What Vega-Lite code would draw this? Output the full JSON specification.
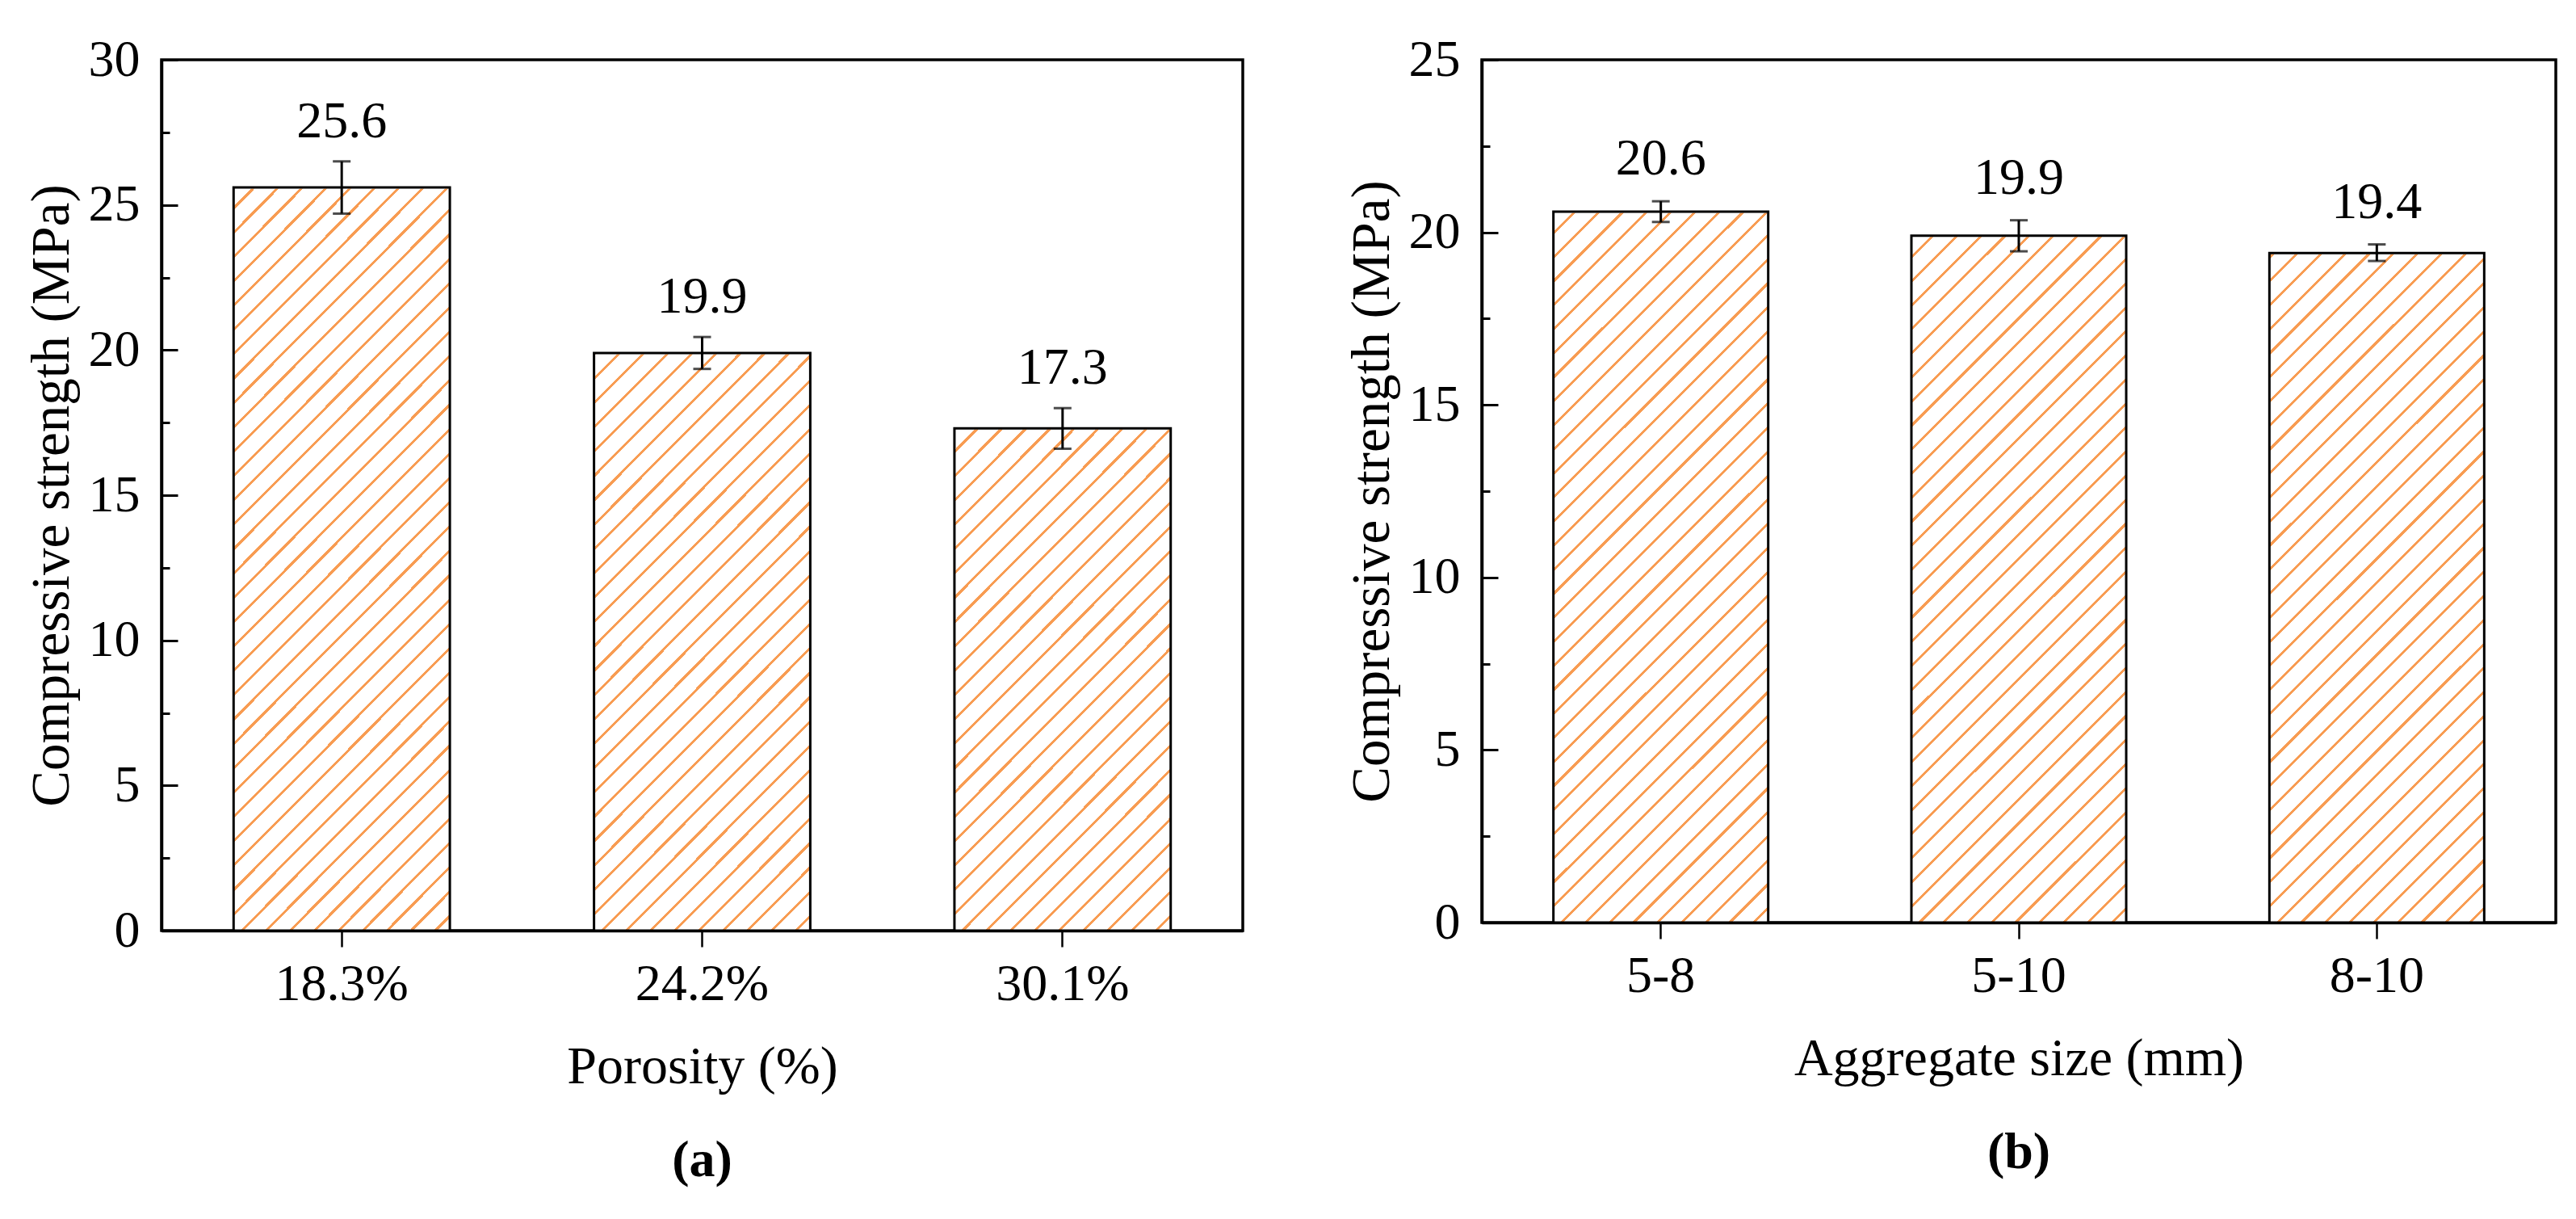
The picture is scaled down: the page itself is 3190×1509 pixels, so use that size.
{
"$schema": "https://vega.github.io/schema/vega-lite/v6.json",
"background": "white",
"padding": {"left": 28, "top": 40, "right": 0, "bottom": 0},
"spacing": 122,
"config": {
 "font": "Liberation Serif",
 "view": {"stroke": "black", "strokeWidth": 3.5},
 "axis": {"domainColor": "black", "domainWidth": 3.5, "tickColor": "black", "tickWidth": 3, "labelColor": "black", "titleColor": "black", "labelFont": "Liberation Serif", "titleFont": "Liberation Serif", "labelFontSize": 64, "titleFontSize": 66, "titleFontWeight": "normal", "grid": false, "labelOverlap": false, "labelBound": false, "labelFlush": false},
 "axisY": {"titleFontSize": 67}
},
"hconcat": [
 {
  "width": 1339, "height": 1078,
  "data": {"values": [
   {"cat": "18.3%", "v": 25.6, "lo": 24.7, "hi": 26.5},
   {"cat": "24.2%", "v": 19.9, "lo": 19.35, "hi": 20.45},
   {"cat": "30.1%", "v": 17.3, "lo": 16.6, "hi": 18.0}
  ]},
  "title": {"text": "(a)", "orient": "bottom", "frame": "group", "anchor": "middle", "fontSize": 64, "font": "Liberation Serif", "fontWeight": "bold", "color": "black", "offset": 52},
  "encoding": {"x": {"field": "cat", "type": "nominal", "sort": null, "scale": {"paddingInner": 0.4, "paddingOuter": 0.2}, "axis": {"title": "Porosity (%)", "labelAngle": 0, "tickSize": 20, "tickWidth": 2.5, "labelPadding": 14, "titlePadding": 38}}},
  "layer": [
   {"mark": {"type": "bar", "strokeWidth": 0, "fill": {"gradient": "linear", "x1": 0, "y1": 0, "x2": 0.29925, "y2": 1.17801, "stops": [
{"offset":0,"color":"#fff"},
{"offset":0.00975,"color":"#fff"},{"offset":0.00975,"color":"#f89c52"},{"offset":0.01293,"color":"#f89c52"},{"offset":0.01293,"color":"#fff"},
{"offset":0.03243,"color":"#fff"},{"offset":0.03243,"color":"#f89c52"},{"offset":0.0356,"color":"#f89c52"},{"offset":0.0356,"color":"#fff"},
{"offset":0.0551,"color":"#fff"},{"offset":0.0551,"color":"#f89c52"},{"offset":0.05828,"color":"#f89c52"},{"offset":0.05828,"color":"#fff"},
{"offset":0.07778,"color":"#fff"},{"offset":0.07778,"color":"#f89c52"},{"offset":0.08095,"color":"#f89c52"},{"offset":0.08095,"color":"#fff"},
{"offset":0.10046,"color":"#fff"},{"offset":0.10046,"color":"#f89c52"},{"offset":0.10363,"color":"#f89c52"},{"offset":0.10363,"color":"#fff"},
{"offset":0.12313,"color":"#fff"},{"offset":0.12313,"color":"#f89c52"},{"offset":0.12631,"color":"#f89c52"},{"offset":0.12631,"color":"#fff"},
{"offset":0.14581,"color":"#fff"},{"offset":0.14581,"color":"#f89c52"},{"offset":0.14898,"color":"#f89c52"},{"offset":0.14898,"color":"#fff"},
{"offset":0.16848,"color":"#fff"},{"offset":0.16848,"color":"#f89c52"},{"offset":0.17166,"color":"#f89c52"},{"offset":0.17166,"color":"#fff"},
{"offset":0.19116,"color":"#fff"},{"offset":0.19116,"color":"#f89c52"},{"offset":0.19433,"color":"#f89c52"},{"offset":0.19433,"color":"#fff"},
{"offset":0.21384,"color":"#fff"},{"offset":0.21384,"color":"#f89c52"},{"offset":0.21701,"color":"#f89c52"},{"offset":0.21701,"color":"#fff"},
{"offset":0.23651,"color":"#fff"},{"offset":0.23651,"color":"#f89c52"},{"offset":0.23969,"color":"#f89c52"},{"offset":0.23969,"color":"#fff"},
{"offset":0.25919,"color":"#fff"},{"offset":0.25919,"color":"#f89c52"},{"offset":0.26236,"color":"#f89c52"},{"offset":0.26236,"color":"#fff"},
{"offset":0.28186,"color":"#fff"},{"offset":0.28186,"color":"#f89c52"},{"offset":0.28504,"color":"#f89c52"},{"offset":0.28504,"color":"#fff"},
{"offset":0.30454,"color":"#fff"},{"offset":0.30454,"color":"#f89c52"},{"offset":0.30771,"color":"#f89c52"},{"offset":0.30771,"color":"#fff"},
{"offset":0.32722,"color":"#fff"},{"offset":0.32722,"color":"#f89c52"},{"offset":0.33039,"color":"#f89c52"},{"offset":0.33039,"color":"#fff"},
{"offset":0.34989,"color":"#fff"},{"offset":0.34989,"color":"#f89c52"},{"offset":0.35307,"color":"#f89c52"},{"offset":0.35307,"color":"#fff"},
{"offset":0.37257,"color":"#fff"},{"offset":0.37257,"color":"#f89c52"},{"offset":0.37574,"color":"#f89c52"},{"offset":0.37574,"color":"#fff"},
{"offset":0.39524,"color":"#fff"},{"offset":0.39524,"color":"#f89c52"},{"offset":0.39842,"color":"#f89c52"},{"offset":0.39842,"color":"#fff"},
{"offset":0.41792,"color":"#fff"},{"offset":0.41792,"color":"#f89c52"},{"offset":0.42109,"color":"#f89c52"},{"offset":0.42109,"color":"#fff"},
{"offset":0.4406,"color":"#fff"},{"offset":0.4406,"color":"#f89c52"},{"offset":0.44377,"color":"#f89c52"},{"offset":0.44377,"color":"#fff"},
{"offset":0.46327,"color":"#fff"},{"offset":0.46327,"color":"#f89c52"},{"offset":0.46645,"color":"#f89c52"},{"offset":0.46645,"color":"#fff"},
{"offset":0.48595,"color":"#fff"},{"offset":0.48595,"color":"#f89c52"},{"offset":0.48912,"color":"#f89c52"},{"offset":0.48912,"color":"#fff"},
{"offset":0.50862,"color":"#fff"},{"offset":0.50862,"color":"#f89c52"},{"offset":0.5118,"color":"#f89c52"},{"offset":0.5118,"color":"#fff"},
{"offset":0.5313,"color":"#fff"},{"offset":0.5313,"color":"#f89c52"},{"offset":0.53447,"color":"#f89c52"},{"offset":0.53447,"color":"#fff"},
{"offset":0.55398,"color":"#fff"},{"offset":0.55398,"color":"#f89c52"},{"offset":0.55715,"color":"#f89c52"},{"offset":0.55715,"color":"#fff"},
{"offset":0.57665,"color":"#fff"},{"offset":0.57665,"color":"#f89c52"},{"offset":0.57983,"color":"#f89c52"},{"offset":0.57983,"color":"#fff"},
{"offset":0.59933,"color":"#fff"},{"offset":0.59933,"color":"#f89c52"},{"offset":0.6025,"color":"#f89c52"},{"offset":0.6025,"color":"#fff"},
{"offset":0.622,"color":"#fff"},{"offset":0.622,"color":"#f89c52"},{"offset":0.62518,"color":"#f89c52"},{"offset":0.62518,"color":"#fff"},
{"offset":0.64468,"color":"#fff"},{"offset":0.64468,"color":"#f89c52"},{"offset":0.64785,"color":"#f89c52"},{"offset":0.64785,"color":"#fff"},
{"offset":0.66736,"color":"#fff"},{"offset":0.66736,"color":"#f89c52"},{"offset":0.67053,"color":"#f89c52"},{"offset":0.67053,"color":"#fff"},
{"offset":0.69003,"color":"#fff"},{"offset":0.69003,"color":"#f89c52"},{"offset":0.69321,"color":"#f89c52"},{"offset":0.69321,"color":"#fff"},
{"offset":0.71271,"color":"#fff"},{"offset":0.71271,"color":"#f89c52"},{"offset":0.71588,"color":"#f89c52"},{"offset":0.71588,"color":"#fff"},
{"offset":0.73538,"color":"#fff"},{"offset":0.73538,"color":"#f89c52"},{"offset":0.73856,"color":"#f89c52"},{"offset":0.73856,"color":"#fff"},
{"offset":0.75806,"color":"#fff"},{"offset":0.75806,"color":"#f89c52"},{"offset":0.76123,"color":"#f89c52"},{"offset":0.76123,"color":"#fff"},
{"offset":0.78074,"color":"#fff"},{"offset":0.78074,"color":"#f89c52"},{"offset":0.78391,"color":"#f89c52"},{"offset":0.78391,"color":"#fff"},
{"offset":0.80341,"color":"#fff"},{"offset":0.80341,"color":"#f89c52"},{"offset":0.80659,"color":"#f89c52"},{"offset":0.80659,"color":"#fff"},
{"offset":0.82609,"color":"#fff"},{"offset":0.82609,"color":"#f89c52"},{"offset":0.82926,"color":"#f89c52"},{"offset":0.82926,"color":"#fff"},
{"offset":0.84876,"color":"#fff"},{"offset":0.84876,"color":"#f89c52"},{"offset":0.85194,"color":"#f89c52"},{"offset":0.85194,"color":"#fff"},
{"offset":0.87144,"color":"#fff"},{"offset":0.87144,"color":"#f89c52"},{"offset":0.87461,"color":"#f89c52"},{"offset":0.87461,"color":"#fff"},
{"offset":0.89412,"color":"#fff"},{"offset":0.89412,"color":"#f89c52"},{"offset":0.89729,"color":"#f89c52"},{"offset":0.89729,"color":"#fff"},
{"offset":0.91679,"color":"#fff"},{"offset":0.91679,"color":"#f89c52"},{"offset":0.91997,"color":"#f89c52"},{"offset":0.91997,"color":"#fff"},
{"offset":0.93947,"color":"#fff"},{"offset":0.93947,"color":"#f89c52"},{"offset":0.94264,"color":"#f89c52"},{"offset":0.94264,"color":"#fff"},
{"offset":0.96214,"color":"#fff"},{"offset":0.96214,"color":"#f89c52"},{"offset":0.96532,"color":"#f89c52"},{"offset":0.96532,"color":"#fff"},
{"offset":0.98482,"color":"#fff"},{"offset":0.98482,"color":"#f89c52"},{"offset":0.98799,"color":"#f89c52"},{"offset":0.98799,"color":"#fff"}
    ]}},
    "encoding": {"y": {"datum": 29.5, "type": "quantitative", "scale": {"domain": [0, 30], "nice": false},
      "axis": {"title": "Compressive strength (MPa)", "values": [0,2.5,5,7.5,10,12.5,15,17.5,20,22.5,25,27.5,30], "labelExpr": "datum.value % 5 === 0 ? datum.label : ''", "tickSize": {"condition": {"test": "datum.value % 5 !== 0", "value": -10}, "value": -20}, "labelPadding": 47, "titlePadding": 11}},
     "y2": {"datum": 0}}},
   {"mark": {"type": "bar", "fill": "white", "stroke": "white", "strokeWidth": 3},
    "encoding": {"y": {"field": "v", "type": "quantitative", "title": "Compressive strength (MPa)"}, "y2": {"datum": 29.5}}},
   {"mark": {"type": "bar", "fillOpacity": 0, "stroke": "black", "strokeWidth": 3},
    "encoding": {"y": {"field": "v", "type": "quantitative", "title": "Compressive strength (MPa)"}}},
   {"mark": {"type": "rule", "color": "black", "strokeWidth": 3},
    "encoding": {"y": {"field": "lo", "type": "quantitative", "title": "Compressive strength (MPa)"}, "y2": {"field": "hi"}}},
   {"mark": {"type": "tick", "orient": "horizontal", "size": 22, "thickness": 3, "color": "black"},
    "encoding": {"y": {"field": "lo", "type": "quantitative", "title": "Compressive strength (MPa)"}}},
   {"mark": {"type": "tick", "orient": "horizontal", "size": 22, "thickness": 3, "color": "black"},
    "encoding": {"y": {"field": "hi", "type": "quantitative", "title": "Compressive strength (MPa)"}}},
   {"mark": {"type": "text", "dy": -30, "baseline": "alphabetic", "fontSize": 64, "font": "Liberation Serif", "color": "black"},
    "encoding": {"y": {"field": "hi", "type": "quantitative", "title": "Compressive strength (MPa)"}, "text": {"field": "v", "type": "quantitative", "format": ".1f"}}}
  ]
 },
 {
  "width": 1330, "height": 1068,
  "data": {"values": [
   {"cat": "5-8", "v": 20.6, "lo": 20.3, "hi": 20.9},
   {"cat": "5-10", "v": 19.9, "lo": 19.45, "hi": 20.35},
   {"cat": "8-10", "v": 19.4, "lo": 19.17, "hi": 19.65}
  ]},
  "title": {"text": "(b)", "orient": "bottom", "frame": "group", "anchor": "middle", "fontSize": 64, "font": "Liberation Serif", "fontWeight": "bold", "color": "black", "offset": 52},
  "encoding": {"x": {"field": "cat", "type": "nominal", "sort": null, "scale": {"paddingInner": 0.4, "paddingOuter": 0.2}, "axis": {"title": "Aggregate size (mm)", "labelAngle": 0, "tickSize": 20, "tickWidth": 2.5, "labelPadding": 14, "titlePadding": 38}}},
  "layer": [
   {"mark": {"type": "bar", "strokeWidth": 0, "fill": {"gradient": "linear", "x1": 0, "y1": 0, "x2": 0.29925, "y2": 1.17801, "stops": [
{"offset":0,"color":"#fff"},
{"offset":0.00975,"color":"#fff"},{"offset":0.00975,"color":"#f89c52"},{"offset":0.01293,"color":"#f89c52"},{"offset":0.01293,"color":"#fff"},
{"offset":0.03243,"color":"#fff"},{"offset":0.03243,"color":"#f89c52"},{"offset":0.0356,"color":"#f89c52"},{"offset":0.0356,"color":"#fff"},
{"offset":0.0551,"color":"#fff"},{"offset":0.0551,"color":"#f89c52"},{"offset":0.05828,"color":"#f89c52"},{"offset":0.05828,"color":"#fff"},
{"offset":0.07778,"color":"#fff"},{"offset":0.07778,"color":"#f89c52"},{"offset":0.08095,"color":"#f89c52"},{"offset":0.08095,"color":"#fff"},
{"offset":0.10046,"color":"#fff"},{"offset":0.10046,"color":"#f89c52"},{"offset":0.10363,"color":"#f89c52"},{"offset":0.10363,"color":"#fff"},
{"offset":0.12313,"color":"#fff"},{"offset":0.12313,"color":"#f89c52"},{"offset":0.12631,"color":"#f89c52"},{"offset":0.12631,"color":"#fff"},
{"offset":0.14581,"color":"#fff"},{"offset":0.14581,"color":"#f89c52"},{"offset":0.14898,"color":"#f89c52"},{"offset":0.14898,"color":"#fff"},
{"offset":0.16848,"color":"#fff"},{"offset":0.16848,"color":"#f89c52"},{"offset":0.17166,"color":"#f89c52"},{"offset":0.17166,"color":"#fff"},
{"offset":0.19116,"color":"#fff"},{"offset":0.19116,"color":"#f89c52"},{"offset":0.19433,"color":"#f89c52"},{"offset":0.19433,"color":"#fff"},
{"offset":0.21384,"color":"#fff"},{"offset":0.21384,"color":"#f89c52"},{"offset":0.21701,"color":"#f89c52"},{"offset":0.21701,"color":"#fff"},
{"offset":0.23651,"color":"#fff"},{"offset":0.23651,"color":"#f89c52"},{"offset":0.23969,"color":"#f89c52"},{"offset":0.23969,"color":"#fff"},
{"offset":0.25919,"color":"#fff"},{"offset":0.25919,"color":"#f89c52"},{"offset":0.26236,"color":"#f89c52"},{"offset":0.26236,"color":"#fff"},
{"offset":0.28186,"color":"#fff"},{"offset":0.28186,"color":"#f89c52"},{"offset":0.28504,"color":"#f89c52"},{"offset":0.28504,"color":"#fff"},
{"offset":0.30454,"color":"#fff"},{"offset":0.30454,"color":"#f89c52"},{"offset":0.30771,"color":"#f89c52"},{"offset":0.30771,"color":"#fff"},
{"offset":0.32722,"color":"#fff"},{"offset":0.32722,"color":"#f89c52"},{"offset":0.33039,"color":"#f89c52"},{"offset":0.33039,"color":"#fff"},
{"offset":0.34989,"color":"#fff"},{"offset":0.34989,"color":"#f89c52"},{"offset":0.35307,"color":"#f89c52"},{"offset":0.35307,"color":"#fff"},
{"offset":0.37257,"color":"#fff"},{"offset":0.37257,"color":"#f89c52"},{"offset":0.37574,"color":"#f89c52"},{"offset":0.37574,"color":"#fff"},
{"offset":0.39524,"color":"#fff"},{"offset":0.39524,"color":"#f89c52"},{"offset":0.39842,"color":"#f89c52"},{"offset":0.39842,"color":"#fff"},
{"offset":0.41792,"color":"#fff"},{"offset":0.41792,"color":"#f89c52"},{"offset":0.42109,"color":"#f89c52"},{"offset":0.42109,"color":"#fff"},
{"offset":0.4406,"color":"#fff"},{"offset":0.4406,"color":"#f89c52"},{"offset":0.44377,"color":"#f89c52"},{"offset":0.44377,"color":"#fff"},
{"offset":0.46327,"color":"#fff"},{"offset":0.46327,"color":"#f89c52"},{"offset":0.46645,"color":"#f89c52"},{"offset":0.46645,"color":"#fff"},
{"offset":0.48595,"color":"#fff"},{"offset":0.48595,"color":"#f89c52"},{"offset":0.48912,"color":"#f89c52"},{"offset":0.48912,"color":"#fff"},
{"offset":0.50862,"color":"#fff"},{"offset":0.50862,"color":"#f89c52"},{"offset":0.5118,"color":"#f89c52"},{"offset":0.5118,"color":"#fff"},
{"offset":0.5313,"color":"#fff"},{"offset":0.5313,"color":"#f89c52"},{"offset":0.53447,"color":"#f89c52"},{"offset":0.53447,"color":"#fff"},
{"offset":0.55398,"color":"#fff"},{"offset":0.55398,"color":"#f89c52"},{"offset":0.55715,"color":"#f89c52"},{"offset":0.55715,"color":"#fff"},
{"offset":0.57665,"color":"#fff"},{"offset":0.57665,"color":"#f89c52"},{"offset":0.57983,"color":"#f89c52"},{"offset":0.57983,"color":"#fff"},
{"offset":0.59933,"color":"#fff"},{"offset":0.59933,"color":"#f89c52"},{"offset":0.6025,"color":"#f89c52"},{"offset":0.6025,"color":"#fff"},
{"offset":0.622,"color":"#fff"},{"offset":0.622,"color":"#f89c52"},{"offset":0.62518,"color":"#f89c52"},{"offset":0.62518,"color":"#fff"},
{"offset":0.64468,"color":"#fff"},{"offset":0.64468,"color":"#f89c52"},{"offset":0.64785,"color":"#f89c52"},{"offset":0.64785,"color":"#fff"},
{"offset":0.66736,"color":"#fff"},{"offset":0.66736,"color":"#f89c52"},{"offset":0.67053,"color":"#f89c52"},{"offset":0.67053,"color":"#fff"},
{"offset":0.69003,"color":"#fff"},{"offset":0.69003,"color":"#f89c52"},{"offset":0.69321,"color":"#f89c52"},{"offset":0.69321,"color":"#fff"},
{"offset":0.71271,"color":"#fff"},{"offset":0.71271,"color":"#f89c52"},{"offset":0.71588,"color":"#f89c52"},{"offset":0.71588,"color":"#fff"},
{"offset":0.73538,"color":"#fff"},{"offset":0.73538,"color":"#f89c52"},{"offset":0.73856,"color":"#f89c52"},{"offset":0.73856,"color":"#fff"},
{"offset":0.75806,"color":"#fff"},{"offset":0.75806,"color":"#f89c52"},{"offset":0.76123,"color":"#f89c52"},{"offset":0.76123,"color":"#fff"},
{"offset":0.78074,"color":"#fff"},{"offset":0.78074,"color":"#f89c52"},{"offset":0.78391,"color":"#f89c52"},{"offset":0.78391,"color":"#fff"},
{"offset":0.80341,"color":"#fff"},{"offset":0.80341,"color":"#f89c52"},{"offset":0.80659,"color":"#f89c52"},{"offset":0.80659,"color":"#fff"},
{"offset":0.82609,"color":"#fff"},{"offset":0.82609,"color":"#f89c52"},{"offset":0.82926,"color":"#f89c52"},{"offset":0.82926,"color":"#fff"},
{"offset":0.84876,"color":"#fff"},{"offset":0.84876,"color":"#f89c52"},{"offset":0.85194,"color":"#f89c52"},{"offset":0.85194,"color":"#fff"},
{"offset":0.87144,"color":"#fff"},{"offset":0.87144,"color":"#f89c52"},{"offset":0.87461,"color":"#f89c52"},{"offset":0.87461,"color":"#fff"},
{"offset":0.89412,"color":"#fff"},{"offset":0.89412,"color":"#f89c52"},{"offset":0.89729,"color":"#f89c52"},{"offset":0.89729,"color":"#fff"},
{"offset":0.91679,"color":"#fff"},{"offset":0.91679,"color":"#f89c52"},{"offset":0.91997,"color":"#f89c52"},{"offset":0.91997,"color":"#fff"},
{"offset":0.93947,"color":"#fff"},{"offset":0.93947,"color":"#f89c52"},{"offset":0.94264,"color":"#f89c52"},{"offset":0.94264,"color":"#fff"},
{"offset":0.96214,"color":"#fff"},{"offset":0.96214,"color":"#f89c52"},{"offset":0.96532,"color":"#f89c52"},{"offset":0.96532,"color":"#fff"},
{"offset":0.98482,"color":"#fff"},{"offset":0.98482,"color":"#f89c52"},{"offset":0.98799,"color":"#f89c52"},{"offset":0.98799,"color":"#fff"}
    ]}},
    "encoding": {"y": {"datum": 24.5, "type": "quantitative", "scale": {"domain": [0, 25], "nice": false},
      "axis": {"title": "Compressive strength (MPa)", "values": [0,2.5,5,7.5,10,12.5,15,17.5,20,22.5,25], "labelExpr": "datum.value % 5 === 0 ? datum.label : ''", "tickSize": {"condition": {"test": "datum.value % 5 !== 0", "value": -10}, "value": -20}, "labelPadding": 47, "titlePadding": 11}},
     "y2": {"datum": 0}}},
   {"mark": {"type": "bar", "fill": "white", "stroke": "white", "strokeWidth": 3},
    "encoding": {"y": {"field": "v", "type": "quantitative", "title": "Compressive strength (MPa)"}, "y2": {"datum": 24.5}}},
   {"mark": {"type": "bar", "fillOpacity": 0, "stroke": "black", "strokeWidth": 3},
    "encoding": {"y": {"field": "v", "type": "quantitative", "title": "Compressive strength (MPa)"}}},
   {"mark": {"type": "rule", "color": "black", "strokeWidth": 3},
    "encoding": {"y": {"field": "lo", "type": "quantitative", "title": "Compressive strength (MPa)"}, "y2": {"field": "hi"}}},
   {"mark": {"type": "tick", "orient": "horizontal", "size": 22, "thickness": 3, "color": "black"},
    "encoding": {"y": {"field": "lo", "type": "quantitative", "title": "Compressive strength (MPa)"}}},
   {"mark": {"type": "tick", "orient": "horizontal", "size": 22, "thickness": 3, "color": "black"},
    "encoding": {"y": {"field": "hi", "type": "quantitative", "title": "Compressive strength (MPa)"}}},
   {"mark": {"type": "text", "dy": -33, "baseline": "alphabetic", "fontSize": 64, "font": "Liberation Serif", "color": "black"},
    "encoding": {"y": {"field": "hi", "type": "quantitative", "title": "Compressive strength (MPa)"}, "text": {"field": "v", "type": "quantitative", "format": ".1f"}}}
  ]
 }
]
}
